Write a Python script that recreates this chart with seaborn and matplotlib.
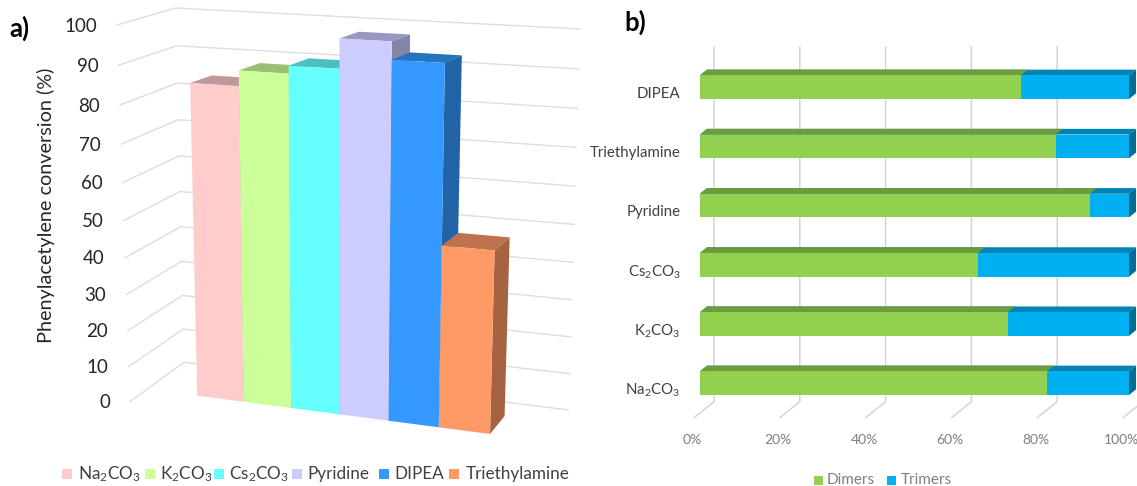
import numpy as np
import pandas as pd
import seaborn as sns
import matplotlib.pyplot as plt
from matplotlib.patches import Rectangle

# panel a data
bases_a = ['Na$_2$CO$_3$', 'K$_2$CO$_3$', 'Cs$_2$CO$_3$', 'Pyridine', 'DIPEA', 'Triethylamine']
conversion = [84.5, 88.5, 90.5, 98, 93.5, 48]
colors_a = ['#FFCCCC', '#CCFF99', '#66FFFF', '#CCCCFF', '#3399FF', '#FF9966']
yticks_a = [0, 10, 20, 30, 40, 50, 60, 70, 80, 90, 100]

# panel b data
bases_b = ['DIPEA', 'Triethylamine', 'Pyridine', 'Cs$_2$CO$_3$', 'K$_2$CO$_3$', 'Na$_2$CO$_3$']
dimers = [74.8, 82.9, 90.9, 64.8, 71.8, 80.9]
trimers = [25.2, 17.1, 9.1, 35.2, 28.2, 19.1]
xticks_b = [0, 20, 40, 60, 80, 100]

sns.set_style('white')
plt.rcParams['font.family'] = ['Lato', 'DejaVu Sans']
plt.rcParams['mathtext.default'] = 'regular'

W, H = 1137, 486
fig = plt.figure(figsize=(W / 100, H / 100), dpi=100)

# full figure axes in pixel coordinates, for the perspective drawing
canvas = fig.add_axes([0, 0, 1, 1])
canvas.set_xlim(0, W)
canvas.set_ylim(H, 0)
canvas.axis('off')


def homography(c00, c10, c01, c11):
    # maps the unit square on to the four corners
    src = [(0, 0), (1, 0), (0, 1), (1, 1)]
    dst = [c00, c10, c01, c11]
    A, b = [], []
    for (u, v), (x, y) in zip(src, dst):
        A.append([u, v, 1, 0, 0, 0, -u * x, -v * x])
        A.append([0, 0, 0, u, v, 1, -u * y, -v * y])
        b += [x, y]
    return np.append(np.linalg.solve(np.array(A, float), np.array(b, float)), 1).reshape(3, 3)


def project(M, u, v):
    x, y, w = M @ np.array([u, v, 1.0])
    return x / w, y / w


# scales of the 3d view: walls, bar fronts and bar backs
left_wall = homography((130, 401.7), (183.9, 362.3), (116.9, 25), (175.7, 8))
back_wall = homography((183.9, 362.3), (568.6, 410), (175.7, 8), (580, 29))
front = homography((197.2, 395.7), (490, 434), (188.8, 22.1), (499.9, 39))
back = homography((217.2, 381.5), (504.6, 416), (210.8, 16), (515.5, 32))

grid_col = '#DDDDDD'
for t in yticks_a:
    p0 = project(left_wall, 0, t / 100)
    p1 = project(left_wall, 1, t / 100)
    p2 = project(back_wall, 1, t / 100)
    canvas.plot([p0[0], p1[0], p2[0]], [p0[1], p1[1], p2[1]], color=grid_col, lw=1, zorder=1)
    canvas.text(p0[0] - 20, p0[1] + 1, str(t), ha='right', va='center', fontsize=13.5, color='#262626')

# seaborn lays the bars out, then each one is projected
ax_a = fig.add_axes([0, 0, 0.1, 0.1])
df_a = pd.DataFrame({'base': bases_a, 'conversion': conversion})
sns.barplot(data=df_a, x='base', y='conversion', hue='base', palette=colors_a,
            width=1, saturation=1, legend=False, ax=ax_a)
rects = list(ax_a.patches)
ax_a.set_visible(False)


def shade(col, k):
    return tuple(k * c for c in plt.matplotlib.colors.to_rgb(col))


for i, r in enumerate(rects):
    u0 = (r.get_x() + 0.5) / 6
    u1 = (r.get_x() + r.get_width() + 0.5) / 6
    v = r.get_height() / 100
    col = colors_a[i]
    top = [project(front, u0, v), project(front, u1, v), project(back, u1, v), project(back, u0, v)]
    side = [project(front, u1, 0), project(front, u1, v), project(back, u1, v), project(back, u1, 0)]
    face = [project(front, u0, 0), project(front, u1, 0), project(front, u1, v), project(front, u0, v)]
    z = 2 + i
    canvas.fill(*zip(*top), color=shade(col, 0.75), lw=0, zorder=z)
    canvas.fill(*zip(*side), color=shade(col, 0.65), lw=0, zorder=z)
    canvas.fill(*zip(*face), color=col, lw=0, zorder=z)

canvas.text(46, 205, 'Phenylacetylene conversion (%)', rotation=90, ha='center', va='center',
            fontsize=14.3, color='#262626')
canvas.text(9, 28, 'a)', fontsize=18.5, fontweight='bold', va='center', color='black')
canvas.text(624, 22, 'b)', fontsize=18.5, fontweight='bold', va='center', color='black')

# legends
sq_a = [62, 145, 214, 291.5, 378.8, 449]
txt_a = [78.4, 159.5, 228.6, 307, 394, 465.4]
for name, col, sx, tx in zip(bases_a, colors_a, sq_a, txt_a):
    canvas.add_patch(Rectangle((sx, 469), 10, 10, color=col, lw=0))
    canvas.text(tx, 474, name, va='center', fontsize=12.3, color='#404040')
for name, col, sx, tx in zip(['Dimers', 'Trimers'], ['#92D050', '#00B0F0'], [814, 887], [827, 901]):
    canvas.add_patch(Rectangle((sx, 476), 9, 9, color=col, lw=0))
    canvas.text(tx, 480, name, va='center', fontsize=11, color='#7F7F7F')

# panel b, stacked bars with a fake depth
ax_b = fig.add_axes([690 / W, 1 - 432 / H, (W - 690) / W, (432 - 40) / H], facecolor='none')
df_b = pd.DataFrame({'base': bases_b, 'dimers': dimers, 'trimers': trimers})
df_b['total'] = df_b['dimers'] + df_b['trimers']
sns.barplot(data=df_b, x='total', y='base', color='#00B0F0', saturation=1, width=0.4,
            orient='h', linewidth=0, ax=ax_b, zorder=3)
sns.barplot(data=df_b, x='dimers', y='base', color='#92D050', saturation=1, width=0.4,
            orient='h', linewidth=0, ax=ax_b, zorder=3)

px_x = 100 / 429
px_y = 1 / 59.2
ax_b.set_xlim(-10 * px_x, (W - 700) * px_x)
ax_b.set_ylim((432 - 87.2) * px_y, (40 - 87.2) * px_y)
dx, dy = 7 * px_x, 5.7 * px_y

for r in list(ax_b.patches):
    x0, w, y0, h = r.get_x(), r.get_width(), r.get_y(), r.get_height()
    col = r.get_facecolor()
    ax_b.fill([x0, x0 + w, x0 + w + dx, x0 + dx], [y0, y0, y0 - dy, y0 - dy],
              color=shade(col[:3], 0.75), lw=0, zorder=2.5)
    if x0 + w > 99:
        ax_b.fill([x0 + w, x0 + w + dx, x0 + w + dx, x0 + w], [y0, y0 - dy, y0 + h - dy, y0 + h],
                  color=shade(col[:3], 0.62), lw=0, zorder=2.5)

# back wall gridlines and floor ticks
wall = 14 * px_x
floor_top = (46.7 - 87.2) * px_y
floor_back = (401.7 - 87.2) * px_y
floor_front = (417.7 - 87.2) * px_y
for t in xticks_b:
    ax_b.plot([t + wall, t + wall, t - 6 * px_x], [floor_top, floor_back, floor_front],
              color='#D4D4D4', lw=1.1, zorder=1)

ax_b.set_xticks([t - 7.5 * px_x for t in xticks_b], [f'{t}%' for t in xticks_b])
ax_b.set_yticks([i + 5 * px_y for i in range(len(bases_b))], bases_b)
ax_b.tick_params(axis='x', length=0, pad=1.2, labelsize=10, labelcolor='#7F7F7F')
ax_b.tick_params(axis='y', length=0, pad=7, labelsize=10.8, labelcolor='#404040')
ax_b.set_xlabel('')
ax_b.set_ylabel('')
sns.despine(ax=ax_b, left=True, bottom=True)

fig.savefig('out.png', dpi=100)
